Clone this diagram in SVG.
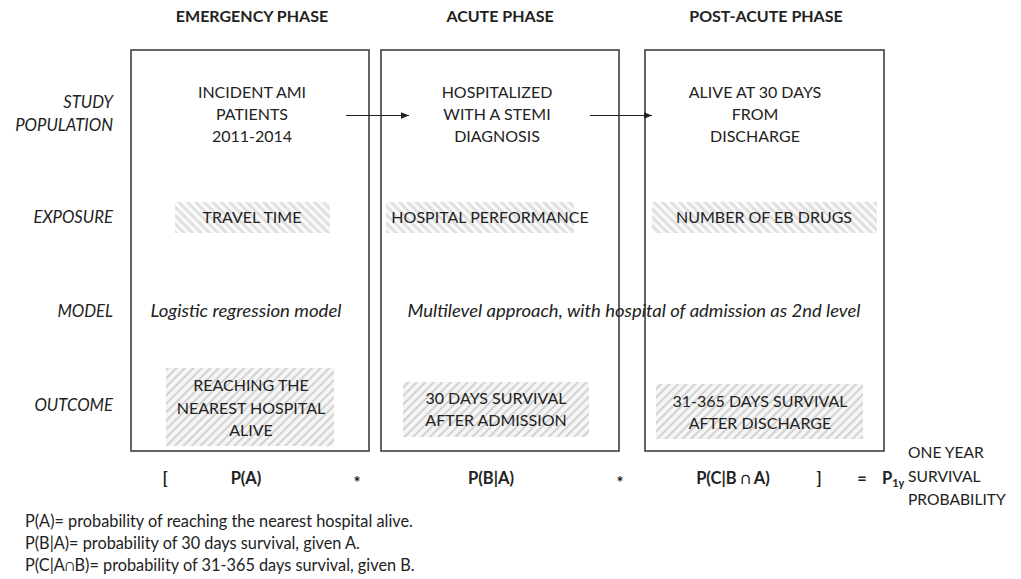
<svg xmlns="http://www.w3.org/2000/svg" width="1021" height="579" viewBox="0 0 1021 579">
  <style>
    text { font-family: "Lato", "Open Sans", "Liberation Sans", sans-serif; fill: #222; }
    .hdr { font-size: 16px; font-weight: bold; text-anchor: middle; }
    .row { font-size: 16.7px; font-style: italic; text-anchor: end; }
    .body { font-size: 16px; text-anchor: middle; }
    .model { font-size: 17px; font-style: italic; text-anchor: middle; }
    .eq { font-size: 16.5px; font-weight: bold; text-anchor: middle; }
    .note { font-size: 16.3px; }
    .side { font-size: 15.6px; }
    .phase { fill: #fff; stroke: #333; stroke-width: 1.5; }
    .expo { fill: url(#hatchLight); }
    .outc { fill: url(#hatchDense); }
    .link { stroke: #222; stroke-width: 1; fill: none; marker-end: url(#arrow); }
  </style>
  <defs>
    <pattern id="hatchLight" width="6" height="6" patternUnits="userSpaceOnUse" patternTransform="rotate(-45)">
      <rect width="6" height="6" fill="#fafafa"/>
      <line x1="1.5" y1="0" x2="1.5" y2="6" stroke="#e0e0e0" stroke-width="3"/>
    </pattern>
    <pattern id="hatchDense" width="6" height="6" patternUnits="userSpaceOnUse" patternTransform="rotate(45)">
      <rect width="6" height="6" fill="#f5f5f5"/>
      <line x1="1" y1="0" x2="1" y2="6" stroke="#cacaca" stroke-width="1.6"/>
    </pattern>
    <marker id="arrow" viewBox="0 0 10 10" refX="10" refY="5" markerWidth="8" markerHeight="8" markerUnits="userSpaceOnUse" orient="auto">
      <path d="M0,1 L10,5 L0,9 z" fill="#222"/>
    </marker>
  </defs>

  <!-- phase headings -->
  <g id="headings">
    <text class="hdr" x="252" y="22">EMERGENCY PHASE</text>
    <text class="hdr" x="500" y="22">ACUTE PHASE</text>
    <text class="hdr" x="766" y="22">POST-ACUTE PHASE</text>
  </g>

  <!-- row labels -->
  <g id="row-labels">
    <text class="row" x="113" y="108">STUDY</text>
    <text class="row" x="113" y="131">POPULATION</text>
    <text class="row" x="113" y="223">EXPOSURE</text>
    <text class="row" x="113" y="317">MODEL</text>
    <text class="row" x="113" y="411">OUTCOME</text>
  </g>

  <!-- emergency phase -->
  <g id="emergency">
    <rect class="phase" x="131" y="50" width="238" height="401"/>
    <text class="body" x="252" y="98">INCIDENT AMI</text>
    <text class="body" x="252" y="120">PATIENTS</text>
    <text class="body" x="252" y="142">2011-2014</text>
    <rect class="expo" x="175" y="202" width="155" height="31"/>
    <text class="body" x="252" y="223">TRAVEL TIME</text>
    <text class="model" x="246" y="317" textLength="191" lengthAdjust="spacingAndGlyphs">Logistic regression model</text>
    <rect class="outc" x="166" y="368" width="168" height="78"/>
    <text class="body" x="251" y="391">REACHING THE</text>
    <text class="body" x="251" y="414">NEAREST HOSPITAL</text>
    <text class="body" x="251" y="436">ALIVE</text>
  </g>

  <!-- acute phase -->
  <g id="acute">
    <rect class="phase" x="381" y="50" width="238" height="401"/>
    <text class="body" x="497" y="98">HOSPITALIZED</text>
    <text class="body" x="497" y="120">WITH A STEMI</text>
    <text class="body" x="497" y="142">DIAGNOSIS</text>
    <rect class="expo" x="386" y="202" width="188" height="31"/>
    <text class="body" x="490" y="223">HOSPITAL PERFORMANCE</text>
    <rect class="outc" x="403" y="382" width="186" height="55"/>
    <text class="body" x="496" y="404">30 DAYS SURVIVAL</text>
    <text class="body" x="496" y="426">AFTER ADMISSION</text>
  </g>

  <!-- post-acute phase -->
  <g id="post-acute">
    <rect class="phase" x="645" y="50" width="239" height="401"/>
    <text class="body" x="755" y="98">ALIVE AT 30 DAYS</text>
    <text class="body" x="755" y="120">FROM</text>
    <text class="body" x="755" y="142">DISCHARGE</text>
    <rect class="expo" x="652" y="202" width="225" height="31"/>
    <text class="body" x="764" y="223">NUMBER OF EB DRUGS</text>
    <rect class="outc" x="656" y="384" width="207" height="55"/>
    <text class="body" x="760" y="407">31-365 DAYS SURVIVAL</text>
    <text class="body" x="760" y="429">AFTER DISCHARGE</text>
  </g>

  <!-- model shared by acute and post-acute phases -->
  <g id="multilevel">
    <text class="model" x="634" y="317" textLength="453" lengthAdjust="spacingAndGlyphs">Multilevel approach, with hospital of admission as 2nd level</text>
  </g>

  <!-- connectors -->
  <g id="connectors">
    <path class="link" d="M346,115.5 H409"/>
    <path class="link" d="M590,115.5 H652"/>
  </g>

  <!-- probability product -->
  <g id="equation">
    <text class="eq" x="165" y="484">[</text>
    <text class="eq" x="246" y="484">P(A)</text>
    <text class="eq" x="357" y="489">*</text>
    <text class="eq" x="491" y="484">P(B|A)</text>
    <text class="eq" x="620" y="489">*</text>
    <text class="eq" x="733" y="484">P(C|B ∩ A)</text>
    <text class="eq" x="819" y="484">]</text>
    <text class="eq" x="862" y="484">=</text>
    <text class="eq" x="882" y="484" style="text-anchor:start">P<tspan font-size="11" dy="3">1y</tspan></text>
    <text class="side" x="908" y="458">ONE YEAR</text>
    <text class="side" x="908" y="482">SURVIVAL</text>
    <text class="side" x="908" y="505">PROBABILITY</text>
  </g>

  <!-- legend -->
  <g id="notes">
    <text class="note" x="25" y="527">P(A)= probability of reaching the nearest hospital alive.</text>
    <text class="note" x="25" y="549">P(B|A)= probability of 30 days survival, given A.</text>
    <text class="note" x="25" y="571">P(C|A∩B)= probability of 31-365 days survival, given B.</text>
  </g>
</svg>
